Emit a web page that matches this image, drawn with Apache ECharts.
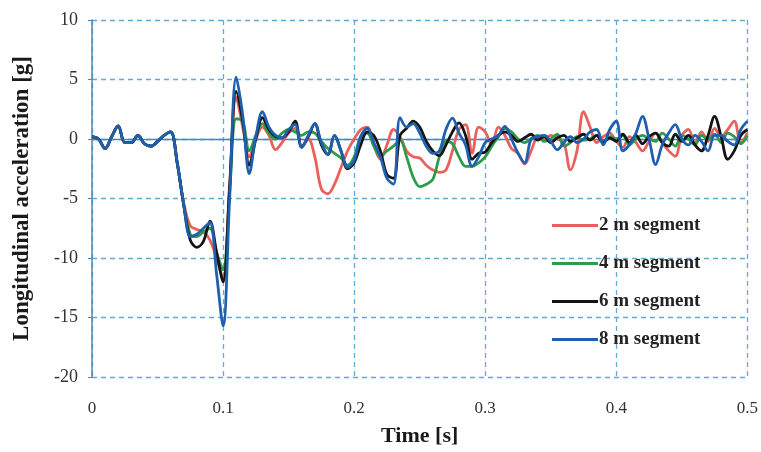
<!DOCTYPE html>
<html>
<head>
<meta charset="utf-8">
<script src="https://cdn.jsdelivr.net/npm/echarts@6/dist/echarts.min.js"></script>
<style>
  html, body { margin: 0; padding: 0; background: #fff; }
  #chart { width: 761px; height: 452px; }
</style>
</head>
<body>
<div id="chart"></div>
<script>
// time step 0.005 s, 0 .. 0.5
var time = [];
for (var k = 0; k <= 100; k++) time.push(+(k * 0.005).toFixed(3));

var seriesNames = ['2 m segment', '4 m segment', '6 m segment', '8 m segment'];

// common start (0 .. 0.06 s)
var common = [0.2, 0.0, -0.8, 0.2, 1.1, -0.3, -0.3, 0.3, -0.4, -0.6, -0.2, 0.3, 0.6];

var seg2 = common.concat([
  -2.0, -5.4, -7.3, -7.6, -7.8, -8.5, -10.0, -11.8, -4.0, 3.5,
  1.0, -1.5, 0.0, 1.0, 0.3, -0.9, -0.3, 0.5, 0.9, -0.6,
  0.0, -1.5, -4.2, -4.6, -3.8, -2.4, -1.0, 0.0, 0.8, 1.0,
  -0.5, -1.7, -0.5, 0.8, 0.2, -1.0, -1.5, -1.6, -2.2, -2.6,
  -2.8, -2.6, -1.0, 0.8, 1.2, -1.2, 1.0, 0.6, -0.5, 1.0,
  0.3, -0.8, -1.2, -2.1, -1.0, 0.1, 0.0, 0.3, 0.0, -0.3,
  -2.6, -1.0, 2.3, 1.0, -0.3, 0.2, 0.5, -0.2, -0.7, 0.2,
  -0.3, -1.0, -0.2, 0.5, -0.3, -1.0, -1.45, 0.3, 0.8, -0.3,
  0.6, -0.2, 0.9, 0.2, 0.8, 1.5, -0.3, 0.5
]);

var seg4 = common.concat([
  -2.0, -5.5, -8.0, -8.2, -7.8, -7.5, -9.5, -11.0, -4.5, 1.7,
  1.5, -1.0, 0.3, 1.3, 0.5, 0.0, 0.5, 0.8, 0.6, 0.3,
  0.6, 0.5, -0.2, -0.8, -1.2, -1.6, -2.2, -1.5, 0.2, 0.5,
  -0.6, -1.45, -1.0, -0.6, -0.1, -1.5, -3.2, -4.0, -3.8, -3.4,
  -1.5, -0.2, -0.4, -1.5, -2.3, -2.3, -2.0, -1.5, -0.6, 0.2,
  0.9, 0.6, 0.0, -0.3, 0.0, 0.3, -0.2, 0.0, 0.4, -0.6,
  -0.3, 0.2, -0.1, 0.0, 0.3, -0.2, 0.2, 0.0, 0.3, -0.5,
  0.0, 0.3, 0.0, -0.2, 0.5, 0.0, -0.6, 0.3, 0.0, -0.5,
  0.3, 0.0, 0.4, -0.3, 0.5, 0.2, -0.4, 0.3
]);

var seg6 = common.concat([
  -2.0, -5.6, -8.5, -9.1, -8.6, -6.9, -9.5, -12.0, -4.0, 4.0,
  1.5, -2.2, 0.0, 1.8, 0.8, 0.2, 0.1, 0.6, 1.5, -0.7,
  0.2, 1.3, -0.5, -1.3, 0.3, -1.0, -2.5, -2.0, -0.5, 0.6,
  0.3, -1.0, -3.0, -3.3, 0.3, 0.9, 1.5, 1.0, -0.2, -1.0,
  -1.4, -0.5, 0.6, 1.35, 0.3, -1.7, -1.2, -1.1, -0.3, 0.3,
  0.6, 0.3, -0.2, 0.1, 0.4, -0.1, 0.2, -0.3, 0.1, 0.3,
  -0.2, 0.1, 0.4, -0.1, 0.3, -0.3, 0.1, -0.2, 0.4, -0.3,
  0.3, -0.4, 0.2, 0.5, -0.3, -0.6, 0.4, -0.2, 0.3, -0.5,
  -1.0, 0.3, 1.9, 0.2, -1.7, -1.0, 0.3, 0.8
]);

var seg8 = common.concat([
  -2.0, -5.5, -8.2, -8.0, -7.5, -7.0, -11.3, -15.7, -5.0, 5.2,
  2.0, -2.9, 0.2, 2.3, 1.0, 0.3, 0.1, 0.8, 1.2, -0.7,
  0.3, 1.3, -0.3, -1.3, 0.3, -1.0, -2.4, -1.8, 0.2, 0.9,
  -0.3, -1.5, -3.3, -3.8, 1.8, 1.0, 1.3, 0.5, -0.6, -1.2,
  -1.0, 0.8, 1.75, 0.5, -0.5, -2.3, -1.5, -0.3, 0.0, 0.3,
  1.05, 0.0, -1.2, -2.0, 0.0, 0.2, 0.3, -0.2, -0.9, -0.3,
  0.2, -0.3, 0.0, 0.6, 0.8, -0.5, 0.8, 1.5, -1.0, -0.5,
  0.5, 1.9, 0.0, -2.15, -0.5, 0.5, 1.2, 0.0, -0.5, 0.3,
  -0.2, -1.0, 0.3, 0.3, -0.2, -0.5, 0.8, 1.5
]);

var xTicks = [0, 0.1, 0.2, 0.3, 0.4, 0.5];
var yTicks = [-20, -15, -10, -5, 0, 5, 10];

var colors = ['#e8615c', '#2e9b4c', '#141414', '#1f5fae'];
var serif = '"Liberation Serif", "DejaVu Serif", serif';

function pairs(vals) {
  return time.map(function (t, i) { return [t, vals[i]]; });
}

var chart = echarts.init(document.getElementById('chart'));

var gridLine = { show: true, lineStyle: { color: '#63a9d6', type: [5, 4], width: 1.3 } };

var option = {
  animation: false,
  color: colors,
  grid: { left: 92, right: 13, top: 20, bottom: 74 },
  legend: {
    orient: 'vertical',
    left: 547,
    top: 211,
    itemWidth: 46,
    itemHeight: 3,
    itemGap: 19,
    icon: 'rect',
    data: seriesNames,
    textStyle: { fontFamily: serif, fontSize: 19, fontWeight: 'bold', color: '#222', padding: [0, 0, 0, -4] }
  },
  xAxis: {
    type: 'value',
    min: 0,
    max: 0.5,
    interval: 0.1,
    name: 'Time [s]',
    nameLocation: 'middle',
    nameGap: 48,
    nameTextStyle: { fontFamily: serif, fontSize: 22, fontWeight: 'bold', color: '#1a1a1a' },
    axisLine: { show: false, onZero: false },
    axisTick: { show: false },
    axisLabel: {
      margin: 23,
      fontFamily: serif,
      fontSize: 17,
      color: '#333',
      formatter: function (v) { return xTicks.indexOf(+v.toFixed(1)) >= 0 ? String(+v.toFixed(1)) : ''; }
    },
    splitLine: gridLine
  },
  yAxis: {
    type: 'value',
    min: -20,
    max: 10,
    interval: 5,
    name: 'Longitudinal acceleration [g]',
    nameLocation: 'middle',
    nameGap: 58,
    nameTextStyle: { fontFamily: serif, fontSize: 23, fontWeight: 'bold', color: '#1a1a1a' },
    axisLine: { show: true, lineStyle: { color: '#4d88b4', width: 1.5 } },
    axisTick: { show: true, length: 4, lineStyle: { color: '#4d88b4' } },
    axisLabel: {
      margin: 14,
      fontFamily: serif,
      fontSize: 18,
      color: '#333',
      formatter: function (v) { return yTicks.indexOf(v) >= 0 ? String(v) : ''; }
    },
    splitLine: gridLine
  },
  series: [seg2, seg4, seg6, seg8].map(function (vals, i) {
    var s = {
      name: seriesNames[i],
      type: 'line',
      data: pairs(vals),
      smooth: 0.35,
      showSymbol: false,
      symbol: 'none',
      lineStyle: { width: 2.8, color: colors[i] },
      z: 2 + i
    };
    if (i === 0) {
      s.markLine = {
        silent: true,
        symbol: 'none',
        label: { show: false },
        lineStyle: { color: '#4d88b4', type: 'solid', width: 1.4 },
        data: [{ yAxis: 0 }],
        z: 1
      };
    }
    return s;
  })
};

chart.setOption(option);
</script>
</body>
</html>
